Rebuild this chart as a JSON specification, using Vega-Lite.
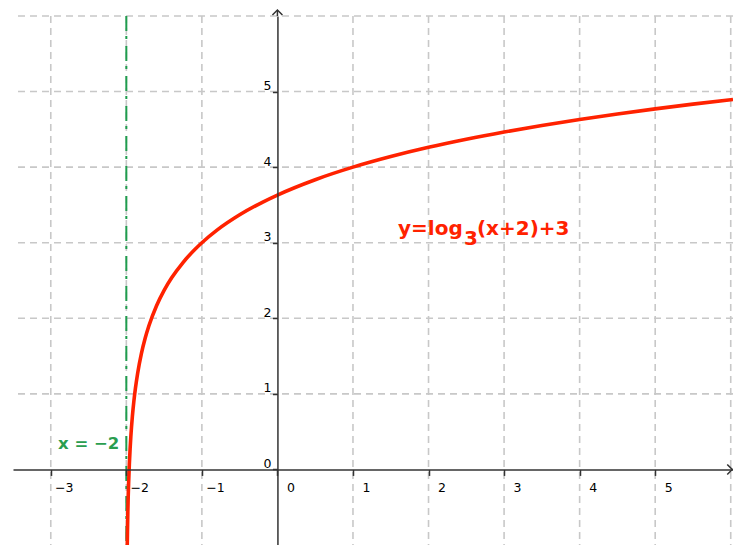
{
  "$schema": "https://vega.github.io/schema/vega-lite/v6.json",
  "width": 720,
  "height": 529,
  "autosize": {"type": "none"},
  "padding": {"left": 13, "top": 16, "right": 0, "bottom": 0},
  "background": "white",
  "config": {"view": {"stroke": null}},
  "datasets": {
    "vgrid": [{"x": -3}, {"x": -2}, {"x": -1}, {"x": 1}, {"x": 2}, {"x": 3}, {"x": 4}, {"x": 5}, {"x": 6}],
    "hgrid": [{"y": 1}, {"y": 2}, {"y": 3}, {"y": 4}, {"y": 5}, {"y": 6}],
    "asym": [{"x": -2}],
    "curve": [
      {"x": -1.988, "y": -1.026}, {"x": -1.985, "y": -0.823}, {"x": -1.98, "y": -0.561},
      {"x": -1.975, "y": -0.358}, {"x": -1.97, "y": -0.192}, {"x": -1.96, "y": 0.07},
      {"x": -1.95, "y": 0.273}, {"x": -1.94, "y": 0.439}, {"x": -1.92, "y": 0.701},
      {"x": -1.9, "y": 0.904}, {"x": -1.88, "y": 1.07}, {"x": -1.85, "y": 1.273},
      {"x": -1.8, "y": 1.535}, {"x": -1.75, "y": 1.738}, {"x": -1.7, "y": 1.904},
      {"x": -1.6, "y": 2.166}, {"x": -1.5, "y": 2.369}, {"x": -1.4, "y": 2.535},
      {"x": -1.25, "y": 2.738}, {"x": -1.1, "y": 2.904}, {"x": -1, "y": 3},
      {"x": -0.8, "y": 3.166}, {"x": -0.5, "y": 3.369}, {"x": -0.2, "y": 3.535},
      {"x": 0, "y": 3.631}, {"x": 0.5, "y": 3.834}, {"x": 1, "y": 4},
      {"x": 1.5, "y": 4.14}, {"x": 2, "y": 4.262}, {"x": 2.5, "y": 4.369},
      {"x": 3, "y": 4.465}, {"x": 3.5, "y": 4.552}, {"x": 4, "y": 4.631},
      {"x": 4.5, "y": 4.704}, {"x": 5, "y": 4.771}, {"x": 5.5, "y": 4.834},
      {"x": 6.03, "y": 4.896}
    ],
    "yext": [{"x": 0, "y": 6, "y2": 6.075}],
    "uparrow": [{"x": 0, "y": 6.079}],
    "rightarrow": [{"x": 6.02, "y": 0}],
    "eq": [
      {"x": 1.596, "y": 3.102, "t": "y=log"},
      {"x": 2.47, "y": 2.97, "t": "3"},
      {"x": 2.641, "y": 3.102, "t": "(x+2)+3"}
    ],
    "asymlabel": [{"x": -2.904, "y": 0.27, "t": "x = −2"}]
  },
  "layer": [
    {
      "data": {"name": "vgrid"},
      "mark": {"type": "rule", "color": "#c8c8c8", "strokeWidth": 1.6, "strokeDash": [7, 5]},
      "encoding": {
        "x": {
          "field": "x", "type": "quantitative",
          "scale": {"domain": [-3.5, 6.03], "nice": false, "zero": false},
          "axis": {
            "title": null, "values": [-3, -2, -1, 0, 1, 2, 3, 4, 5], "format": "d",
            "offset": -75.57, "grid": false, "zindex": 1,
            "domainColor": "#333", "domainWidth": 1.5,
            "tickColor": "#333", "tickWidth": 1.5, "tickSize": 6,
            "labelFont": "DejaVu Sans", "labelFontSize": 12.5, "labelColor": "#000",
            "labelAlign": "center", "labelOffset": 13, "labelBaseline": "top", "labelPadding": 6,
            "labelFlush": false, "labelOverlap": false, "labelBound": false
          }
        }
      }
    },
    {
      "data": {"name": "hgrid"},
      "mark": {"type": "rule", "color": "#c8c8c8", "strokeWidth": 1.6, "strokeDash": [7, 5]},
      "encoding": {
        "y": {
          "field": "y", "type": "quantitative",
          "scale": {"domain": [-1, 6], "nice": false, "zero": false},
          "axis": {
            "title": null, "values": [0, 1, 2, 3, 4, 5], "format": "d",
            "offset": -264.43, "grid": false, "zindex": 1,
            "domainColor": "#333", "domainWidth": 1.5,
            "tickColor": "#333", "tickWidth": 1.5, "tickSize": 5,
            "labelFont": "DejaVu Sans", "labelFontSize": 12.5, "labelColor": "#000",
            "labelAlign": "right", "labelBaseline": "alphabetic", "labelOffset": -2, "labelPadding": 1.5,
            "labelFlush": false, "labelOverlap": false, "labelBound": false
          }
        }
      }
    },
    {
      "data": {"name": "asym"},
      "mark": {"type": "rule", "color": "#1f9d4e", "strokeWidth": 2, "strokeDash": [15, 5, 3, 7]},
      "encoding": {"x": {"field": "x", "type": "quantitative", "axis": {"title": null}}}
    },
    {
      "data": {"name": "curve"},
      "mark": {"type": "line", "color": "#ff2200", "strokeWidth": 3.6, "interpolate": "monotone", "clip": true},
      "encoding": {
        "x": {"field": "x", "type": "quantitative", "axis": {"title": null}},
        "y": {"field": "y", "type": "quantitative", "axis": {"title": null}}
      }
    },
    {
      "data": {"name": "yext"},
      "mark": {"type": "rule", "color": "#333", "strokeWidth": 1.5},
      "encoding": {
        "x": {"field": "x", "type": "quantitative", "axis": {"title": null}},
        "y": {"field": "y", "type": "quantitative", "axis": {"title": null}},
        "y2": {"field": "y2"}
      }
    },
    {
      "data": {"name": "uparrow"},
      "mark": {"type": "point", "shape": "M-1,1L0,0L1,1", "size": 100, "filled": false, "stroke": "#333", "strokeWidth": 1.5, "opacity": 1},
      "encoding": {
        "x": {"field": "x", "type": "quantitative", "axis": {"title": null}},
        "y": {"field": "y", "type": "quantitative", "axis": {"title": null}}
      }
    },
    {
      "data": {"name": "rightarrow"},
      "mark": {"type": "point", "shape": "M-1,-1L0,0L-1,1", "size": 100, "filled": false, "stroke": "#333", "strokeWidth": 1.5, "opacity": 1},
      "encoding": {
        "x": {"field": "x", "type": "quantitative", "axis": {"title": null}},
        "y": {"field": "y", "type": "quantitative", "axis": {"title": null}}
      }
    },
    {
      "data": {"name": "eq"},
      "mark": {"type": "text", "font": "DejaVu Sans", "fontWeight": "bold", "fontSize": 20, "color": "#ff2200", "align": "left", "baseline": "alphabetic"},
      "encoding": {
        "x": {"field": "x", "type": "quantitative", "axis": {"title": null}},
        "y": {"field": "y", "type": "quantitative", "axis": {"title": null}},
        "text": {"field": "t"}
      }
    },
    {
      "data": {"name": "asymlabel"},
      "mark": {"type": "text", "font": "DejaVu Sans", "fontWeight": "bold", "fontSize": 16.5, "color": "#2a9d4f", "align": "left", "baseline": "alphabetic"},
      "encoding": {
        "x": {"field": "x", "type": "quantitative", "axis": {"title": null}},
        "y": {"field": "y", "type": "quantitative", "axis": {"title": null}},
        "text": {"field": "t"}
      }
    }
  ]
}
